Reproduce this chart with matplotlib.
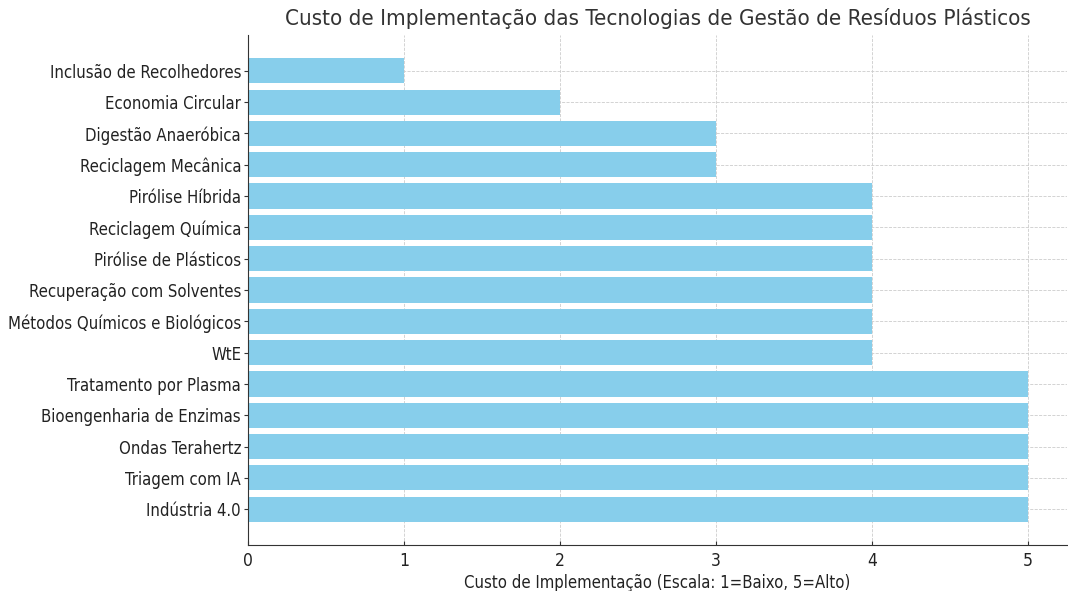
import matplotlib.pyplot as plt

# Technologies, listed bottom to top as they appear
technologies = [
    'Indústria 4.0', 'Triagem com IA', 'Ondas Terahertz', 'Bioengenharia de Enzimas',
    'Tratamento por Plasma', 'WtE', 'Métodos Químicos e Biológicos',
    'Recuperação com Solventes', 'Pirólise de Plásticos', 'Reciclagem Química',
    'Pirólise Híbrida', 'Reciclagem Mecânica', 'Digestão Anaeróbica',
    'Economia Circular', 'Inclusão de Recolhedores',
]
costs = [5, 5, 5, 5, 5, 4, 4, 4, 4, 4, 4, 3, 3, 2, 1]
x_ticks = [0, 1, 2, 3, 4, 5]

plt.rcParams['font.family'] = 'DejaVu Sans'
plt.rcParams['font.stretch'] = 'condensed'

fig = plt.figure(figsize=(10.68, 5.91), dpi=100)
ax = fig.add_axes([248 / 1068, 46 / 591, 819 / 1068, 510 / 591])

ax.barh(technologies, costs, color='skyblue', height=0.8, zorder=2)
ax.set_xticks(x_ticks)
ax.grid(True, linestyle='--', linewidth=0.6, color='#cccccc', zorder=0)

ax.spines['top'].set_visible(False)
ax.spines['right'].set_visible(False)
for side in ['left', 'bottom']:
    ax.spines[side].set_color('#333333')
ax.tick_params(axis='y', labelsize=12.0, colors='#333333', labelcolor='#222222', length=3, pad=2)
ax.tick_params(axis='x', labelsize=12.5, colors='#333333', labelcolor='#222222',
               direction='in', length=3, pad=5)
ax.set_xlabel('Custo de Implementação (Escala: 1=Baixo, 5=Alto)', fontsize=12.0,
              color='#222222', labelpad=3)
ax.set_title('Custo de Implementação das Tecnologias de Gestão de Resíduos Plásticos',
             fontsize=16, color='#333333', pad=7)

fig.savefig('out.png', dpi=100)
